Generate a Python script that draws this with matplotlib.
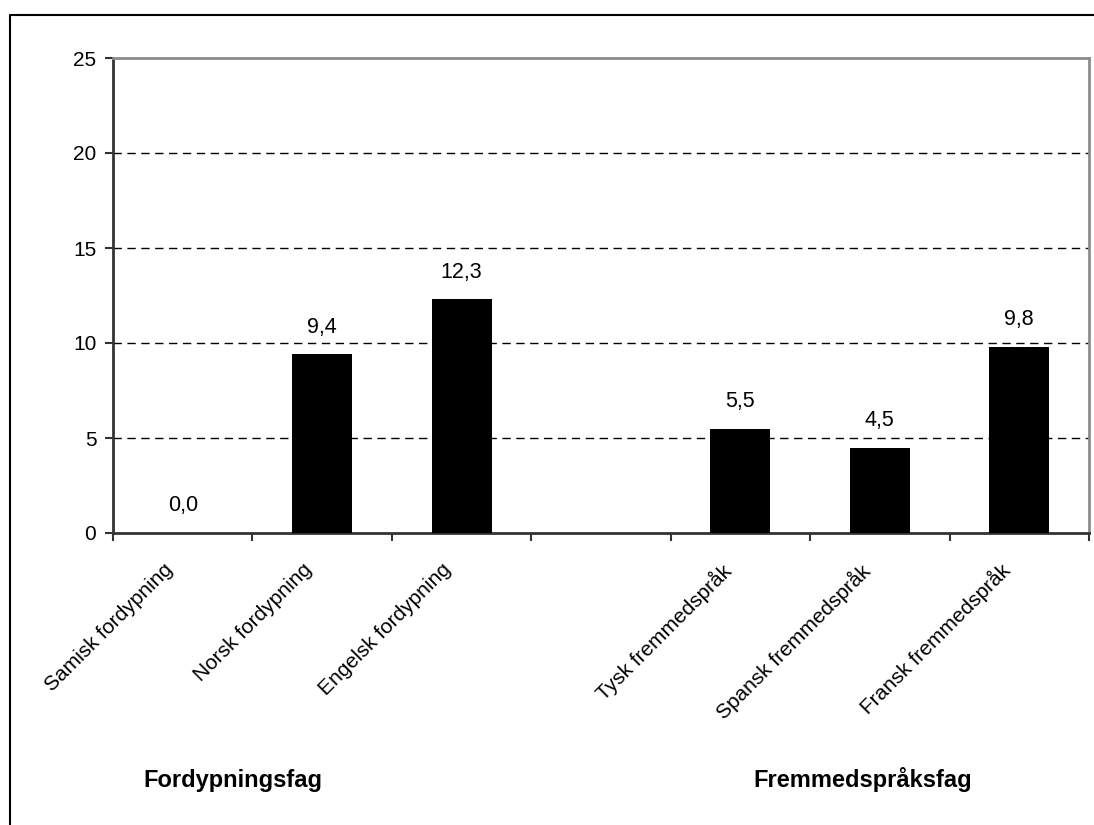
import matplotlib
matplotlib.use("Agg")
import matplotlib.pyplot as plt
from matplotlib.lines import Line2D
from matplotlib.transforms import ScaledTranslation, blended_transform_factory
import numpy as np

plt.rcParams['font.family'] = ['Liberation Sans', 'DejaVu Sans']

categories = ["Samisk fordypning", "Norsk fordypning", "Engelsk fordypning", "",
              "Tysk fremmedspråk", "Spansk fremmedspråk", "Fransk fremmedspråk"]
values = [0.0, 9.4, 12.3, np.nan, 5.5, 4.5, 9.8]
value_labels = ["0,0", "9,4", "12,3", "", "5,5", "4,5", "9,8"]
group_labels = ["Fordypningsfag", "Fremmedspråksfag"]
yticks = [0, 5, 10, 15, 20, 25]

W, H = 1094, 825
fig = plt.figure(figsize=(W / 100, H / 100), dpi=100)
fig.patch.set_facecolor("white")

ax = fig.add_axes([113 / W, 1 - 533 / H, (1089 - 113) / W, (533 - 58) / H])

x = np.arange(len(categories))
plot_vals = [0 if np.isnan(v) else v for v in values]
ax.bar(x, plot_vals, width=0.43, color="black", zorder=3)

for xi, v, lab in zip(x, values, value_labels):
    if np.isnan(v) or lab == "":
        continue
    ax.annotate(lab, (xi, v), xytext=(0, 12), textcoords="offset points",
                ha="center", va="bottom", fontsize=15.5, color="black")

ax.set_xlim(-0.5, len(categories) - 0.5)
ax.set_ylim(0, 25)
ax.set_yticks(yticks)
ax.set_yticklabels([str(t) for t in yticks], fontsize=15)

# boundary tick marks, labels drawn as text at category centres
ax.set_xticks(np.arange(-0.5, len(categories) + 0.5, 1.0))
ax.set_xticklabels([])
ax.tick_params(axis="x", length=6, width=1.5, color="#333333")
ax.tick_params(axis="y", length=6, width=1.5, color="#333333", pad=6)

base = blended_transform_factory(ax.transData, ax.transAxes)
shift = ScaledTranslation(-20 / 100, -27 / 100, fig.dpi_scale_trans)
for xi, cat in zip(x, categories):
    if not cat:
        continue
    ax.text(xi, 0, cat, transform=base + shift, rotation=45, ha="right", va="top",
            rotation_mode="anchor", fontsize=15, clip_on=False)

for t in [5, 10, 15, 20]:
    ax.axhline(t, color="black", linewidth=1.0, linestyle=(0, (6, 4)), zorder=1)

ax.spines["left"].set_color("#333333")
ax.spines["bottom"].set_color("#333333")
ax.spines["left"].set_linewidth(2)
ax.spines["bottom"].set_linewidth(2)
ax.spines["top"].set_color("#8c8c8c")
ax.spines["right"].set_color("#8c8c8c")
ax.spines["top"].set_linewidth(2)
ax.spines["right"].set_linewidth(2)

# outer chart border (left and top visible)
fig.add_artist(Line2D([9.5 / W, 9.5 / W, 1.0], [0.0, 1 - 15 / H, 1 - 15 / H],
                      transform=fig.transFigure, color="black", linewidth=1.5))

fig.text(233 / W, 1 - 780 / H, group_labels[0], ha="center", va="center",
         fontsize=17, fontweight="bold")
fig.text(863 / W, 1 - 780 / H, group_labels[1], ha="center", va="center",
         fontsize=17, fontweight="bold")

fig.savefig("out.png", dpi=100)
